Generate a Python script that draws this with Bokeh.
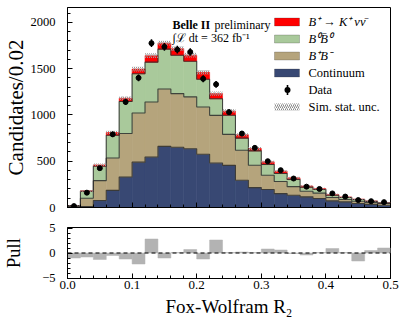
import numpy as np
from bokeh.plotting import figure
from bokeh.layouts import column
from bokeh.models import (Range1d, FixedTicker, Span, Label, BoxAnnotation,
                          NumeralTickFormatter)
from bokeh.embed import file_html
from bokeh.resources import INLINE

# ---------------- data ----------------
bin_low = [0.00, 0.02, 0.04, 0.06, 0.08, 0.10, 0.12, 0.14, 0.16, 0.18, 0.20, 0.22, 0.24,
           0.26, 0.28, 0.30, 0.32, 0.34, 0.36, 0.38, 0.40, 0.42, 0.44, 0.46, 0.48]
bin_high = [0.02, 0.04, 0.06, 0.08, 0.10, 0.12, 0.14, 0.16, 0.18, 0.20, 0.22, 0.24, 0.26,
            0.28, 0.30, 0.32, 0.34, 0.36, 0.38, 0.40, 0.42, 0.44, 0.46, 0.48, 0.50]

continuum = [8, 10, 75, 185, 330, 490, 545, 660, 650, 635, 575, 480, 455,
             295, 215, 195, 150, 133, 115, 97, 72, 61, 43, 34, 25]
bpbm = [8, 90, 215, 350, 470, 530, 595, 620, 580, 560, 510, 515, 335,
        324, 242, 154, 130, 92, 60, 58, 36, 25, 25, 20, 18]
b0b0bar = [4, 75, 155, 245, 345, 425, 430, 430, 415, 385, 300, 180, 207,
           130, 155, 115, 87, 77, 45, 39, 25, 22, 18, 12, 7]
signal = [1, 5, 15, 30, 35, 50, 70, 65, 70, 65, 75, 55, 43,
          36, 25, 29, 25, 18, 12, 10, 8, 6, 4, 3, 2]
sim_unc = [3, 10, 15, 20, 22, 25, 25, 26, 26, 25, 24, 22, 20,
           18, 16, 14, 12, 11, 9, 8, 7, 6, 5, 4, 4]
data = [15, 160, 425, 790, 1140, 1400, 1775, 1735, 1705, 1680, 1390, 1330, 1030,
        799, 644, 500, 403, 313, 225, 200, 152, 118, 80, 68, 58]
pull = [-1.0, -0.8, -1.3, -0.5, -1.2, -2.2, 2.8, -1.0, 0.1, 0.7, -1.2, 2.6, 0.1,
        0.2, 0.1, 0.8, 0.6, -0.1, -0.4, 0.1, 0.9, 0.1, -1.6, 0.5, 1.0]

x_ticks = [0.0, 0.1, 0.2, 0.3, 0.4, 0.5]
y_ticks = [0, 500, 1000, 1500, 2000]
pull_ticks = [-5, 0, 5]

# ---------------- style ----------------
FONT = "Liberation Serif"
C_SIG = "#ff0000"
C_B0 = "#a9c99b"
C_BPBM = "#b5a47c"
C_CONT = "#384873"
C_EDGE = "#2b2b2b"
C_PULL = "#b3b3b3"

lo = np.array(bin_low)
hi = np.array(bin_high)
centers = (lo + hi) / 2
c1 = np.array(continuum, float)
c2 = c1 + np.array(bpbm)
c3 = c2 + np.array(b0b0bar)
c4 = c3 + np.array(signal)
unc = np.array(sim_unc, float)
d = np.array(data, float)
derr = np.sqrt(d)
edges = np.append(lo, hi[-1])
minor_x = list(np.round(np.arange(0, 0.501, 0.02), 2))


def style_axis(ax, label_size="12.5px"):
    ax.major_tick_in = 5
    ax.major_tick_out = 0
    ax.minor_tick_in = 3
    ax.minor_tick_out = 0
    ax.axis_line_color = "black"
    ax.major_tick_line_color = "black"
    ax.minor_tick_line_color = "black"
    ax.major_label_text_font = FONT
    ax.major_label_text_font_size = label_size
    ax.major_label_text_color = "black"
    ax.axis_label_text_font = FONT
    ax.axis_label_text_font_style = "normal"
    ax.axis_label_text_color = "black"


p = figure(width=400, height=217, x_range=Range1d(0, 0.5), y_range=Range1d(0, 2160),
           output_backend="svg", toolbar_location=None,
           min_border_left=65, min_border_right=10, min_border_top=7, min_border_bottom=10)
p.grid.visible = False
p.outline_line_color = "black"
p.outline_line_alpha = 1
p.background_fill_color = "white"

# stacked fills
stack = [(np.zeros(25), c1, C_CONT), (c1, c2, C_BPBM), (c2, c3, C_B0), (c3, c4, C_SIG)]
for b, t, col in stack:
    p.quad(left=lo, right=hi, bottom=b, top=t, fill_color=col, line_color=col, line_width=0.6)
# layer outlines
for lev in (c1, c2, c3):
    p.step(x=edges, y=np.append(lev, lev[-1]), mode="after", line_color=C_EDGE, line_width=1.1,
           line_alpha=0.85)
# sim stat uncertainty
p.quad(left=lo, right=hi, bottom=c4 - unc, top=c4 + unc, fill_alpha=0, line_alpha=0,
       hatch_pattern="/", hatch_color="#9a9a9a", hatch_scale=4, hatch_weight=1)
# data
p.segment(x0=centers, x1=centers, y0=d - derr, y1=d + derr, line_color="black", line_width=1.5)
p.scatter(x=centers, y=d, size=5, marker="circle", fill_color="black", line_color="black")

p.xaxis.ticker = FixedTicker(ticks=x_ticks, minor_ticks=minor_x)
p.yaxis.ticker = FixedTicker(ticks=y_ticks, minor_ticks=list(range(0, 2101, 100)))
style_axis(p.xaxis[0])
style_axis(p.yaxis[0])
p.xaxis.major_label_overrides = {t: "" for t in x_ticks}
p.xaxis.major_label_text_font_size = "1px"
p.xaxis.major_label_standoff = 0
p.yaxis.major_label_standoff = 12
p.yaxis.axis_label = "Candidates/0.02"
p.yaxis.axis_label_text_font_size = "21px"
p.yaxis.axis_label_standoff = 0

# annotation text (screen units relative to the frame)
ann = dict(x_units="screen", y_units="screen", text_font=FONT, text_font_size="12px",
           text_color="black", text_baseline="alphabetic")
p.add_layout(Label(x=105, y=182.5, text="Belle II", text_font_style="bold", **ann))
p.add_layout(Label(x=147, y=182.5, text="preliminary", **ann))
p.add_layout(Label(x=105, y=170, text="∫ℒ dt = 362 fb⁻¹", **ann))

# legend (built from annotations)
leg_x0, leg_x1, txt_x = 207, 232, 241
rows = [185.5 - 17 * i for i in range(6)]
sw = dict(left_units="screen", right_units="screen", top_units="screen", bottom_units="screen")
for r, col in zip(rows[:4], [C_SIG, C_B0, C_BPBM, C_CONT]):
    p.add_layout(BoxAnnotation(left=leg_x0, right=leg_x1, bottom=r - 4, top=r + 4,
                               fill_color=col, fill_alpha=1, line_color=C_EDGE, line_width=0.8,
                               **sw))
p.add_layout(BoxAnnotation(left=219.2, right=220.8, bottom=rows[4] - 5, top=rows[4] + 5,
                           fill_color="black", fill_alpha=1, line_alpha=0, **sw))
p.add_layout(BoxAnnotation(left=217, right=223, bottom=rows[4] - 3, top=rows[4] + 3,
                           border_radius=3, fill_color="black", fill_alpha=1, line_alpha=0, **sw))
p.add_layout(BoxAnnotation(left=leg_x0, right=leg_x1, bottom=rows[5] - 3.5, top=rows[5] + 3.5,
                           fill_alpha=0, line_alpha=0, hatch_pattern="/", hatch_color="#8a8a8a",
                           hatch_scale=4, hatch_weight=1, **sw))
lab = dict(x_units="screen", y_units="screen", text_font=FONT, text_font_size="12.5px",
           text_color="black", text_baseline="middle")
legend_texts = ["B⁺ → K⁺ νν̄", "B⁰B̄⁰", "B⁺B⁻", "Continuum", "Data", "Sim. stat. unc."]
for i, (r, t) in enumerate(zip(rows, legend_texts)):
    p.add_layout(Label(x=txt_x, y=r, text=t, text_font_style="italic" if i < 3 else "normal", **lab))

# ---------------- pull panel ----------------
q = figure(width=400, height=103, x_range=p.x_range, y_range=Range1d(-5.1, 5.1),
           output_backend="svg", toolbar_location=None,
           min_border_left=65, min_border_right=10, min_border_top=10, min_border_bottom=42)
q.grid.visible = False
q.outline_line_color = "black"
q.outline_line_alpha = 1
q.quad(left=lo, right=hi, bottom=np.zeros(25), top=pull, fill_color=C_PULL, line_color=C_PULL,
       line_width=0.5)
q.add_layout(Span(location=0, dimension="width", line_color="black", line_width=1.2,
                  line_dash="4 3"))
q.xaxis.ticker = FixedTicker(ticks=x_ticks, minor_ticks=minor_x)
q.yaxis.ticker = FixedTicker(ticks=pull_ticks, minor_ticks=list(range(-5, 6)))
style_axis(q.xaxis[0], "13px")
style_axis(q.yaxis[0])
q.xaxis.formatter = NumeralTickFormatter(format="0.0")
q.xaxis.major_label_standoff = 2
q.xaxis.axis_label = "Fox-Wolfram R₂"
q.xaxis.axis_label_text_font_size = "19px"
q.xaxis.axis_label_standoff = 4
q.yaxis.major_label_overrides = {-5: "−5", 0: "0", 5: "5"}
q.yaxis.major_label_standoff = 12
q.yaxis.axis_label = "Pull"
q.yaxis.axis_label_text_font_size = "18.5px"
q.yaxis.axis_label_standoff = 15

layout = column(p, q, spacing=0)
open("out.html", "w").write(file_html(layout, INLINE))
